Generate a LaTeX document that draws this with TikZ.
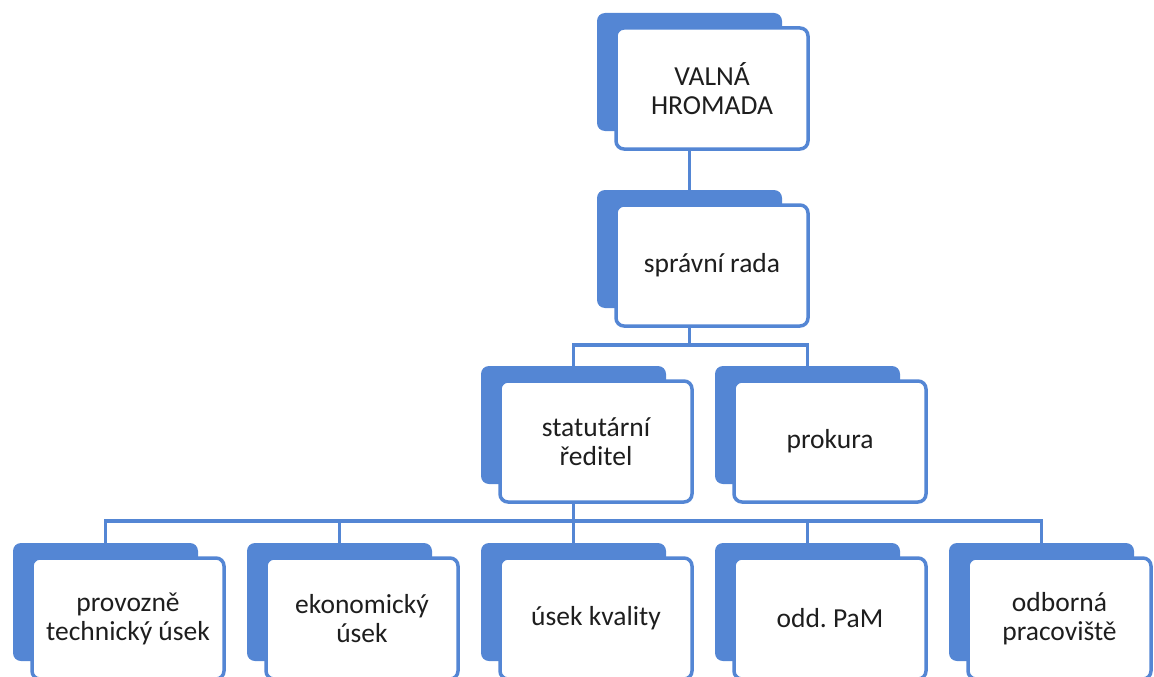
\documentclass[tikz,border=0pt]{standalone}
\usepackage{fontspec}
\setmainfont{Carlito}
\usetikzlibrary{backgrounds}
\definecolor{orgblue}{RGB}{84,134,212}
\definecolor{orgtext}{RGB}{30,30,30}
\begin{document}
\frenchspacing
\begin{tikzpicture}[x=1pt,y=-1pt,
  backbox/.style={fill=orgblue, draw=none, rounded corners=8pt, minimum width=185pt, minimum height=118pt, inner sep=0pt},
  frontbox/.style={fill=white, draw=orgblue, line width=3.5pt, rounded corners=8pt, minimum width=192pt, minimum height=121pt, inner sep=0pt, align=center, font=\fontsize{27.5}{29}\selectfont, text=orgtext},
  link/.style={draw=orgblue, line width=3.5pt}]
\useasboundingbox (0,0) rectangle (1154,677);
% top
\node[backbox] (Vb) at (689.5,72) {};
\node[frontbox] (V) at (712,88.5) {VALNÁ\\HROMADA};
\node[backbox] (Sb) at (689.5,249) {};
\node[frontbox] (S) at (712,265.5) {správní rada};
% second row
\node[backbox] (statb) at (573.5,425) {};
\node[frontbox] (stat) at (596,441.5) {statutární\\ředitel};
\node[backbox] (prokb) at (807.5,425) {};
\node[frontbox] (prok) at (830,441.5) {prokura};
% bottom row
\node[backbox] (b1b) at (105.5,602) {};
\node[frontbox] (b1) at (128,618.5) {provozně\\technický úsek};
\node[backbox] (b2b) at (339.5,602) {};
\node[frontbox] (b2) at (362,618.5) {ekonomický\\úsek};
\node[backbox] (b3b) at (573.5,602) {};
\node[frontbox] (b3) at (596,618.5) {úsek kvality};
\node[backbox] (b4b) at (807.5,602) {};
\node[frontbox] (b4) at (830,618.5) {odd.\ PaM};
\node[backbox] (b5b) at (1041.5,602) {};
\node[frontbox, minimum width=183pt] (b5) at (1059.5,618.5) {odborná\\pracoviště};
% connectors
\coordinate (bus1) at (689.5,345);
\coordinate (bus2) at (573.5,521);
\begin{pgfonlayer}{background}
\draw[link] (Vb.center) -- (Sb.north);
\draw[link] (Sb.center) -- (bus1);
\draw[link] (statb.north) |- (bus1) -| (prokb.north);
\draw[link] (statb.center) -- (bus2);
\draw[link] (b1b.north) |- (bus2) -| (b5b.north);
\draw[link] (b2b.north) |- (bus2);
\draw[link] (b4b.north) |- (bus2);
\draw[link] (b3b.north) -- (bus2);
\end{pgfonlayer}
\end{tikzpicture}
\end{document}
